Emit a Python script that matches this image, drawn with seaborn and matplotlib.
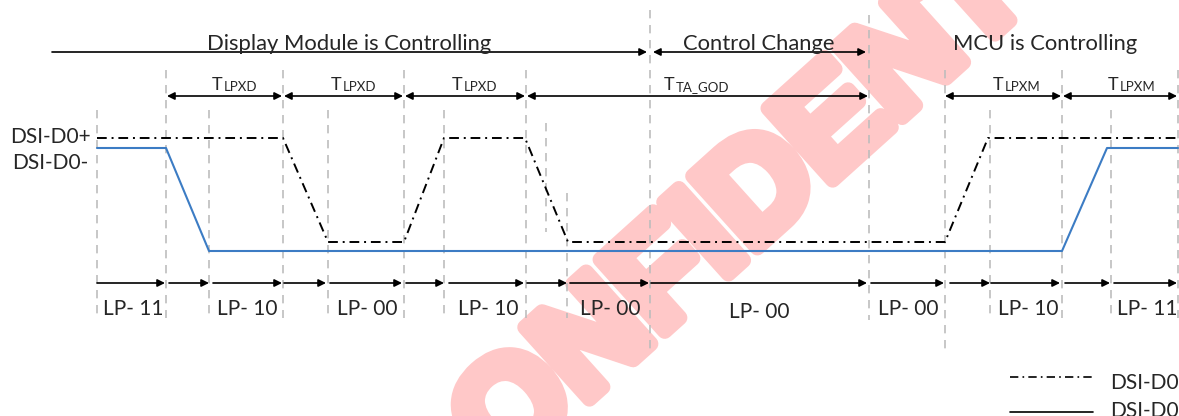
import pandas as pd
import seaborn as sns
import matplotlib.pyplot as plt
import matplotlib.patheffects as pe

sns.set_theme(style="white")
plt.rcParams['font.family'] = ['Lato', 'DejaVu Sans']

# --- data (diagram is laid out on a 1179 x 416 canvas, y pointing down) ---
# DSI-D0+ / DSI-D0- edges: time points and logic levels
d0p_t = [97, 283, 328, 404, 444, 525, 568, 945, 988, 1178]
d0p_level = [1, 1, 0, 0, 1, 1, 0, 0, 1, 1]
d0n_t = [97, 166, 209, 1062, 1107, 1178]
d0n_level = [1, 1, 0, 0, 1, 1]

# vertical timing markers
guide_x = [97, 166, 209, 283, 328, 404, 444, 526, 546, 567, 650, 869, 945, 990, 1062, 1111, 1178]
guide_top = [110, 70, 110, 70, 110, 70, 110, 70, 123, 193, 10, 15, 70, 110, 70, 110, 70]
guide_bot = [318, 318, 318, 318, 318, 318, 318, 318, 232, 318, 355, 320, 355, 318, 318, 318, 318]

# who is controlling the bus
phase_labels = ['Display Module is Controlling', 'Control Change', 'MCU is Controlling']
phase_text_x = [349, 759, 1045]

# timing parameters
t_start = [166, 283, 404, 526, 944, 1062]
t_end = [283, 404, 526, 869, 1062, 1178]
t_sub = ['LPXD', 'LPXD', 'LPXD', 'TA_GOD', 'LPXM', 'LPXM']
t_text_x = [212, 331, 452, 664, 993, 1108]

# line states along the bottom
lp_arrow_start = [97, 169, 213, 284, 330, 406, 449, 527, 570, 651, 871, 950, 991, 1065, 1114]
lp_arrow_end = [165, 209, 282, 326, 402, 444, 524, 567, 649, 867, 944, 990, 1060, 1110, 1177]
lp_labels = ['LP- 11', 'LP- 10', 'LP- 00', 'LP- 10', 'LP- 00', 'LP- 00', 'LP- 00', 'LP- 10', 'LP- 11']
lp_label_x = [133, 247, 367, 488, 610, 759, 908, 1028, 1147]
lp_label_y = [309, 309, 309, 309, 309, 312, 309, 309, 309]

# level -> canvas y
D0P_Y = {1: 138, 0: 242}
D0N_Y = {1: 148, 0: 251}

fig = plt.figure(figsize=(11.79, 4.16), dpi=100)
ax = fig.add_axes([0, 0, 1, 1])

# watermark (heavy letters: bold glyphs thickened with a stroke)
wm_color = '#ffc8c8'
ax.text(790, 170, 'CONFIDENTIAL', rotation=42, rotation_mode='anchor',
        ha='center', va='center', fontsize=101, fontweight='bold',
        family=['Liberation Sans Narrow', 'Liberation Sans'], color=wm_color, zorder=0,
        path_effects=[pe.withStroke(linewidth=11, foreground=wm_color)])

# timing markers
ax.vlines(guide_x, guide_top, guide_bot, colors='#bdbdbd', lw=1.2,
          linestyles=(0, (5, 4)), zorder=1)

# signals
sig_p = pd.DataFrame({'t': d0p_t, 'y': [D0P_Y[v] for v in d0p_level]})
sig_n = pd.DataFrame({'t': d0n_t, 'y': [D0N_Y[v] for v in d0n_level]})
sns.lineplot(data=sig_p, x='t', y='y', ax=ax, color='black', lw=1.4,
             linestyle=(0, (5, 2.5, 1, 2.5)), estimator=None, sort=False, zorder=3)
sns.lineplot(data=sig_n, x='t', y='y', ax=ax, color='#3c7cc4', lw=1.5,
             estimator=None, sort=False, zorder=3)
ax.set_xlim(0, 1179)
ax.set_ylim(416, 0)
ax.axis('off')

ax.text(50, 137, 'DSI-D0+', ha='center', va='center', fontsize=15)
ax.text(50, 163, 'DSI-D0-', ha='center', va='center', fontsize=15)


def arrow(x0, x1, y, style):
    ax.annotate('', xy=(x1, y), xytext=(x0, y),
                arrowprops=dict(arrowstyle=style, color='black', lw=1.2,
                                mutation_scale=11, shrinkA=0, shrinkB=0))


# phase row
arrow(52, 647, 52, '-|>')
arrow(653, 866, 52, '<|-|>')
arrow(872, 1180, 52, '<|-')
for lbl, x in zip(phase_labels, phase_text_x):
    ax.text(x, 50, lbl, ha='center', va='baseline', fontsize=15.8)

# timing parameter row
for x0, x1, sub, tx in zip(t_start, t_end, t_sub, t_text_x):
    arrow(x0 + 1, x1 - 1, 96, '<|-|>')
    t = ax.text(tx, 90, 'T', ha='left', va='baseline', fontsize=13)
    ax.annotate(sub, xy=(1, 0), xycoords=t, xytext=(0.5, 0), textcoords='offset points',
                ha='left', va='bottom', fontsize=9.5)

# line state row
for x0, x1 in zip(lp_arrow_start, lp_arrow_end):
    arrow(x0, x1, 283, '-|>')
for lbl, x, y in zip(lp_labels, lp_label_x, lp_label_y):
    ax.text(x, y, lbl, ha='center', va='center', fontsize=15)

# legend
ax.plot([1010, 1093], [377, 377], color='black', lw=1.2, linestyle=(0, (5, 2.5, 1, 2.5)))
ax.plot([1010, 1093], [412, 412], color='black', lw=1.2)
ax.text(1110, 383, 'DSI-D0+', ha='left', va='center', fontsize=15)
ax.text(1110, 411, 'DSI-D0-', ha='left', va='center', fontsize=15)

fig.savefig('out.png', dpi=100)
